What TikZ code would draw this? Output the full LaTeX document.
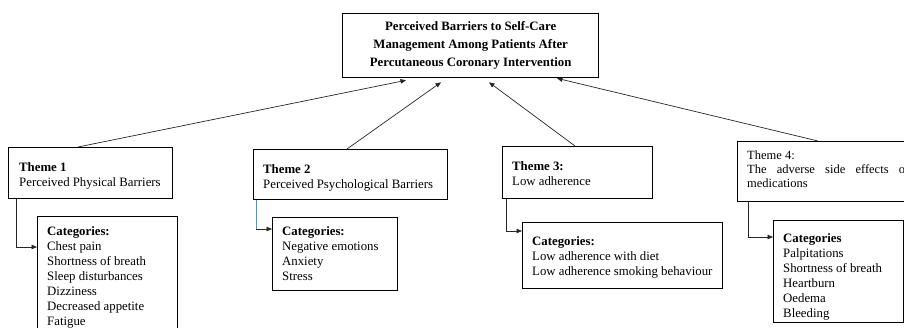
\documentclass[tikz,border=0pt]{standalone}
\usepackage{fontspec}
\setmainfont{Liberation Serif}
\usetikzlibrary{arrows.meta,calc}
\definecolor{linkblue}{HTML}{5B8FD0}
\begin{document}
\begin{tikzpicture}[x=1pt,y=-1pt,
  box/.style={draw=black,line width=1.3pt,inner sep=0pt,anchor=north west,fill=white},
  txt/.style={anchor=north west,inner sep=0pt,align=left,font=\fontsize{12.8}{15}\selectfont},
  arr/.style={draw=black!85,line width=0.7pt,-{Triangle[length=5.5pt,width=4.5pt]}},
  plain/.style={line width=0.7pt}]
\useasboundingbox (0,0) rectangle (904,327);
% title
\node[box,minimum width=256pt,minimum height=64pt,align=center,
  font=\fontsize{12.8}{18}\selectfont\bfseries] (title) at (342,13)
  {Perceived Barriers to Self-Care\\Management Among Patients After\\Percutaneous Coronary Intervention};
% theme boxes
\node[box,minimum width=164pt,minimum height=51pt] (t1) at (8,147) {};
\node[box,minimum width=140pt,minimum height=130pt] (c1) at (37,216) {};
\node[box,minimum width=194pt,minimum height=50pt] (t2) at (253,149) {};
\node[box,minimum width=125pt,minimum height=73pt] (c2) at (272,217) {};
\node[box,minimum width=150pt,minimum height=52pt] (t3) at (502,146) {};
\node[box,minimum width=200pt,minimum height=66pt] (c3) at (522,222) {};
\node[box,minimum width=180pt,minimum height=60pt] (t4) at (737,141) {};
\node[box,minimum width=130pt,minimum height=102pt] (c4) at (773,220) {};
% texts
\node[txt] (tx1) at (19,162) {\textbf{Theme 1}\\Perceived Physical Barriers};
\node[txt] (cx1) at (47,226) {\textbf{Categories:}\\Chest pain\\Shortness of breath\\Sleep disturbances\\Dizziness\\Decreased appetite\\Fatigue};
\node[txt] (tx2) at (263,164) {\textbf{Theme 2}\\Perceived Psychological Barriers};
\node[txt] (cx2) at (282,226) {\textbf{Categories:}\\Negative emotions\\Anxiety\\Stress};
\node[txt] (tx3) at (512,161) {\textbf{Theme 3:}\\Low adherence};
\node[txt] (cx3) at (532,236) {\textbf{Categories:}\\Low adherence with diet\\Low adherence smoking behaviour};
\node[txt,font=\fontsize{12.5}{13.7}\selectfont] (tx4) at (747,151)
  {Theme 4:\\\makebox[162pt][s]{The adverse side effects of}\\medications};
\node[txt] (cx4) at (783,233) {\textbf{Categories}\\Palpitations\\Shortness of breath\\Heartburn\\Oedema\\Bleeding};
% arrows to title
\draw[arr] ($(t1.north west)+(70,0)$) -- ($(title.south west)+(64,2)$);
\draw[arr] ($(t2.north west)+(94,0)$) -- ($(title.south west)+(99,4)$);
\draw[arr] ($(t3.north west)+(73,0)$) -- ($(title.south west)+(147,4)$);
\draw[arr] ($(t4.north west)+(81,0)$) -- ($(title.south west)+(215,0)$);
% elbow connectors
\draw[arr] ($(t1.south west)+(8,0)$) |- ($(c1.north west)+(0,31)$);
\coordinate (k2) at ($(t2.south west)+(3,0)$);
\coordinate (e2) at ($(c2.north west)+(0,12)$);
\draw[plain,draw=linkblue] (k2) -- (k2 |- e2);
\draw[arr] (k2 |- e2) -- (e2);
\draw[arr] ($(t3.south west)+(4,0)$) |- ($(c3.north west)+(0,9)$);
\draw[arr] ($(t4.south west)+(11,0)$) |- ($(c4.north west)+(0,17)$);
\end{tikzpicture}
\end{document}
